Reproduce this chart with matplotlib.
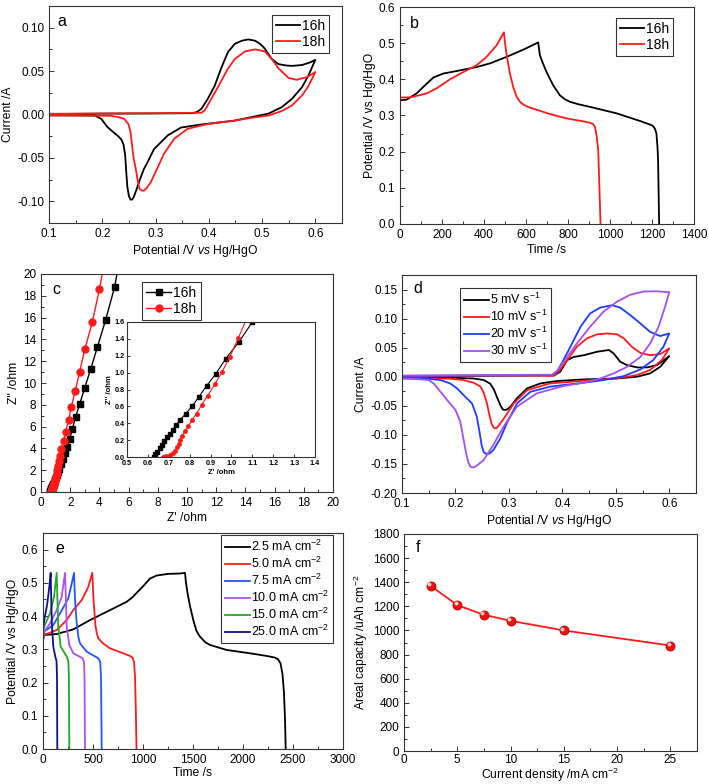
"""
Six-panel electrochemistry figure: CV, GCD, EIS, rate CV, rate GCD, areal capacity
"""

import matplotlib
matplotlib.use("Agg")
import matplotlib.pyplot as plt
from matplotlib.ticker import MultipleLocator
from matplotlib.transforms import ScaledTranslation

plt.rcParams['font.family'] = ['Liberation Sans', 'DejaVu Sans']
plt.rcParams['mathtext.fontset'] = 'custom'
plt.rcParams['mathtext.rm'] = 'Liberation Sans'
plt.rcParams['mathtext.it'] = 'Liberation Sans:italic'
plt.rcParams['mathtext.bf'] = 'Liberation Sans:bold'
plt.rcParams['axes.unicode_minus'] = False

# ---- panel a : CV of 16h / 18h samples ----
a_16h_x = [0.10, 0.20, 0.30, 0.37, 0.378, 0.386, 0.398, 0.411, 0.423, 0.436, 0.449, 0.462, 0.474, 0.487, 0.497,
           0.505, 0.518, 0.531, 0.545, 0.556, 0.575, 0.590, 0.600,
           0.587, 0.575, 0.556, 0.537, 0.512, 0.480, 0.449, 0.386, 0.348, 0.323, 0.297, 0.285, 0.278, 0.270,
           0.264, 0.259, 0.256, 0.253, 0.250, 0.247, 0.245, 0.243, 0.240, 0.236, 0.230, 0.222, 0.210, 0.198,
           0.186, 0.150, 0.10]
a_16h_y = [0.0005, 0.001, 0.0012, 0.0015, 0.003, 0.0065, 0.018, 0.033, 0.053, 0.072, 0.0815, 0.085, 0.0865, 0.085,
           0.081, 0.076, 0.064, 0.058, 0.0565, 0.056, 0.057, 0.060, 0.063,
           0.045, 0.0315, 0.018, 0.0085, 0.001, -0.003, -0.007, -0.0115, -0.015, -0.024, -0.040, -0.055, -0.063,
           -0.076, -0.087, -0.095, -0.098, -0.098, -0.094, -0.083, -0.066, -0.047, -0.035, -0.029, -0.025,
           -0.021, -0.0146, -0.005, -0.0012, -0.001, -0.001]
a_18h_x = [0.10, 0.20, 0.30, 0.386, 0.392, 0.401, 0.417, 0.436, 0.449, 0.468, 0.487, 0.505, 0.518, 0.531,
           0.550, 0.565, 0.584, 0.600,
           0.587, 0.575, 0.556, 0.537, 0.512, 0.480, 0.449, 0.398, 0.360, 0.335, 0.316, 0.304, 0.291, 0.283,
           0.278, 0.274, 0.270, 0.267, 0.263, 0.259, 0.256, 0.253, 0.249, 0.241, 0.230, 0.215, 0.150, 0.10]
a_18h_y = [0.0008, 0.0012, 0.0015, 0.002, 0.0046, 0.014, 0.0315, 0.053, 0.064, 0.0727, 0.075, 0.0727, 0.064, 0.053,
           0.042, 0.040, 0.043, 0.049,
           0.0327, 0.022, 0.0104, 0.004, -0.0012, -0.0038, -0.007, -0.011, -0.0165, -0.028, -0.045, -0.061, -0.078,
           -0.085, -0.0877, -0.0877, -0.0855, -0.078, -0.063, -0.051, -0.036, -0.020, -0.011, -0.005, -0.003,
           -0.0015, -0.0012, -0.001]

# ---- panel b : charge/discharge 16h / 18h ----
b_16h_t = [0, 32, 79, 127, 159, 206, 270, 365, 428, 507, 587, 658, 666, 680, 698, 729, 761, 785, 809, 850,
           904, 1031, 1142, 1190, 1205, 1215, 1221, 1226, 1229, 1234]
b_16h_v = [0.342, 0.344, 0.361, 0.388, 0.405, 0.416, 0.423, 0.434, 0.444, 0.462, 0.482, 0.502, 0.467, 0.445,
           0.42, 0.384, 0.356, 0.345, 0.338, 0.331, 0.324, 0.306, 0.285, 0.275, 0.271, 0.262, 0.250, 0.215,
           0.177, 0.0]
b_18h_t = [0, 48, 127, 174, 238, 301, 365, 412, 460, 495, 500, 507, 522, 539, 555, 571, 590, 618, 714, 793,
           880, 904, 920, 928, 936, 944, 955]
b_18h_v = [0.35, 0.35, 0.361, 0.375, 0.40, 0.42, 0.439, 0.462, 0.494, 0.53, 0.50, 0.471, 0.42, 0.379, 0.352,
           0.338, 0.329, 0.322, 0.304, 0.292, 0.283, 0.28, 0.276, 0.269, 0.245, 0.204, 0.0]

# ---- panel c : Nyquist plots ----
c_16h_x = [0.629, 0.636, 0.646, 0.656, 0.667, 0.679, 0.692, 0.706, 0.719, 0.735, 0.755, 0.782, 0.812, 0.845,
           0.881, 0.925, 0.973, 1.037, 1.10, 1.16, 1.26, 1.37, 1.49, 1.63, 1.80, 1.96, 2.15, 2.37, 2.65, 2.99,
           3.40, 3.86, 4.43, 5.04, 5.45]
c_16h_y = [0.0, 0.032, 0.064, 0.105, 0.145, 0.185, 0.233, 0.273, 0.322, 0.382, 0.442, 0.515, 0.603, 0.716,
           0.844, 0.985, 1.166, 1.367, 1.6, 1.82, 2.15, 2.55, 3.0, 3.55, 4.17, 4.88, 5.77, 6.9, 8.07, 9.54,
           11.26, 13.28, 15.8, 18.8, 21.8]
c_18h_x = [0.672, 0.689, 0.706, 0.719, 0.73, 0.739, 0.747, 0.755, 0.765, 0.777, 0.793, 0.812, 0.833, 0.858,
           0.886, 0.92, 0.956, 0.993, 1.032, 1.08, 1.12, 1.17, 1.23, 1.30, 1.39, 1.55, 1.69, 1.89, 2.08, 2.35,
           2.65, 3.0, 3.52, 4.0, 4.45]
c_18h_y = [0.0, 0.008, 0.024, 0.044, 0.072, 0.113, 0.153, 0.201, 0.253, 0.306, 0.366, 0.442, 0.515, 0.619,
           0.728, 0.86, 1.013, 1.19, 1.407, 1.68, 1.98, 2.35, 2.8, 3.3, 3.9, 4.69, 5.52, 6.6, 7.82, 9.3,
           11.04, 13.1, 15.6, 18.6, 21.8]

# ---- panel d : CV at different scan rates ----
d_labels = ['5 mV s$^{-1}$', '10 mV s$^{-1}$', '20 mV s$^{-1}$', '30 mV s$^{-1}$']
d_5_x = [0.10, 0.20, 0.30, 0.384, 0.396, 0.409, 0.421, 0.440, 0.465, 0.487, 0.496, 0.508, 0.521, 0.540,
         0.558, 0.577, 0.600,
         0.583, 0.564, 0.540, 0.502, 0.440, 0.390, 0.359, 0.334, 0.315, 0.303, 0.297, 0.293, 0.289, 0.285,
         0.278, 0.272, 0.265, 0.253, 0.234, 0.190, 0.10]
d_5_y = [0.001, 0.0015, 0.002, 0.002, 0.0086, 0.0286, 0.034, 0.037, 0.043, 0.046, 0.040, 0.026, 0.020, 0.016,
         0.016, 0.020, 0.0355,
         0.017, 0.0057, 0.0, -0.003, -0.0046, -0.0074, -0.0115, -0.02, -0.037, -0.0515, -0.056, -0.0573,
         -0.0565, -0.051, -0.036, -0.022, -0.012, -0.0057, -0.003, -0.0017, -0.001]
d_10_x = [0.10, 0.20, 0.30, 0.384, 0.393, 0.409, 0.427, 0.446, 0.465, 0.484, 0.502, 0.515, 0.530, 0.546,
          0.564, 0.583, 0.600,
          0.586, 0.564, 0.540, 0.502, 0.440, 0.377, 0.334, 0.309, 0.293, 0.281, 0.276, 0.272, 0.268, 0.264,
          0.259, 0.253, 0.247, 0.234, 0.215, 0.190, 0.10]
d_10_y = [0.001, 0.0015, 0.002, 0.002, 0.0086, 0.0286, 0.0515, 0.066, 0.073, 0.0744, 0.073, 0.066, 0.0515,
          0.041, 0.037, 0.039, 0.0487,
          0.0286, 0.0115, 0.003, -0.003, -0.0069, -0.0115, -0.023, -0.046, -0.0687, -0.084, -0.0887, -0.088,
          -0.082, -0.068, -0.046, -0.028, -0.017, -0.0103, -0.0057, -0.0034, -0.0017]
d_20_x = [0.10, 0.20, 0.30, 0.381, 0.39, 0.402, 0.415, 0.434, 0.452, 0.471, 0.493, 0.508, 0.527, 0.546,
          0.564, 0.583, 0.600,
          0.589, 0.570, 0.546, 0.515, 0.477, 0.440, 0.377, 0.340, 0.315, 0.296, 0.284, 0.271, 0.264, 0.258,
          0.253, 0.249, 0.245, 0.240, 0.231, 0.215, 0.203, 0.190, 0.172, 0.147, 0.10]
d_20_y = [0.0015, 0.002, 0.0025, 0.003, 0.0086, 0.0286, 0.0515, 0.086, 0.109, 0.119, 0.123, 0.119, 0.106,
          0.0916, 0.0773, 0.070, 0.0744,
          0.0515, 0.0286, 0.0126, 0.0011, -0.0057, -0.0103, -0.017, -0.026, -0.046, -0.080, -0.106, -0.126,
          -0.132, -0.133, -0.130, -0.118, -0.095, -0.0687, -0.046, -0.0315, -0.020, -0.0115, -0.0057, -0.0034,
          -0.0023]
d_30_x = [0.10, 0.20, 0.30, 0.381, 0.39, 0.409, 0.427, 0.452, 0.477, 0.502, 0.527, 0.552, 0.577, 0.600,
          0.592, 0.580, 0.564, 0.546, 0.521, 0.496, 0.471, 0.440, 0.402, 0.352, 0.315, 0.290, 0.271, 0.253,
          0.240, 0.234, 0.228, 0.224, 0.220, 0.215, 0.209, 0.200, 0.187, 0.172, 0.159, 0.150, 0.128, 0.10]
d_30_y = [0.002, 0.0025, 0.003, 0.0035, 0.01, 0.034, 0.057, 0.086, 0.112, 0.129, 0.141, 0.1466, 0.147, 0.1454,
          0.120, 0.086, 0.057, 0.034, 0.017, 0.0057, -0.003, -0.0103, -0.016, -0.0286, -0.0515, -0.086, -0.117,
          -0.143, -0.153, -0.156, -0.155, -0.147, -0.132, -0.107, -0.077, -0.057, -0.043, -0.0258, -0.0115,
          -0.0057, -0.004, -0.0034]

# ---- panel e : charge/discharge at different current densities ----
e_labels = ['2.5 mA cm$^{-2}$', '5.0 mA cm$^{-2}$', '7.5 mA cm$^{-2}$',
            '10.0 mA cm$^{-2}$', '15.0 mA cm$^{-2}$', '25.0 mA cm$^{-2}$']
e_2p5_t = [0, 10, 137, 303, 470, 637, 837, 900, 937, 1002, 1070, 1137, 1250, 1367, 1420, 1430, 1445, 1470,
           1503, 1535, 1570, 1620, 1670, 1837, 2070, 2237, 2320, 2350, 2375, 2395, 2410, 2420, 2427]
e_2p5_v = [0.33, 0.343, 0.346, 0.36, 0.388, 0.413, 0.443, 0.458, 0.47, 0.49, 0.513, 0.522, 0.527, 0.528, 0.53,
           0.50, 0.47, 0.43, 0.388, 0.355, 0.338, 0.322, 0.313, 0.298, 0.288, 0.28, 0.275, 0.27, 0.258, 0.225,
           0.168, 0.09, 0.0]
e_5_t = [0, 10, 137, 237, 303, 387, 453, 493, 505, 525, 540, 553, 600, 670, 870, 895, 910, 920, 928, 935]
e_5_v = [0.33, 0.343, 0.358, 0.388, 0.418, 0.448, 0.488, 0.53, 0.45, 0.37, 0.345, 0.333, 0.318, 0.303, 0.28,
         0.275, 0.262, 0.22, 0.12, 0.0]
e_7p5_t = [0, 10, 103, 170, 253, 287, 310, 320, 337, 355, 370, 437, 553, 572, 580, 587]
e_7p5_v = [0.32, 0.353, 0.373, 0.408, 0.453, 0.498, 0.53, 0.45, 0.378, 0.335, 0.318, 0.293, 0.273, 0.262,
           0.22, 0.0]
e_10_t = [0, 10, 70, 137, 187, 220, 230, 237, 263, 303, 397, 410, 415, 420]
e_10_v = [0.33, 0.353, 0.378, 0.418, 0.458, 0.53, 0.44, 0.368, 0.313, 0.288, 0.273, 0.26, 0.22, 0.0]
e_15_t = [0, 10, 70, 110, 137, 145, 153, 177, 237, 253, 259, 263]
e_15_v = [0.34, 0.368, 0.408, 0.458, 0.53, 0.44, 0.368, 0.308, 0.278, 0.265, 0.22, 0.0]
e_25_t = [0, 10, 43, 63, 77, 83, 90, 103, 123, 135, 140, 143]
e_25_v = [0.36, 0.383, 0.438, 0.488, 0.53, 0.44, 0.368, 0.308, 0.278, 0.265, 0.22, 0.0]

# ---- panel f : areal capacity vs current density ----
f_density = [2.5, 5, 7.5, 10, 15, 25]
f_capacity = [1370, 1210, 1130, 1080, 1000, 875]

W, H = 709, 784
fig = plt.figure(figsize=(W / 100, H / 100), dpi=100)


def box(l, t, r, b):
    return [l / W, 1 - b / H, (r - l) / W, (b - t) / H]


TICK_FS = 8.5
LAB_FS = 8.7


def style(ax, fs=TICK_FS):
    for s in ax.spines.values():
        s.set_color('#333333')
        s.set_linewidth(0.8)
    ax.tick_params(which='both', direction='in', top=False, right=False, labelsize=fs, width=0.7,
                   color='#333333')
    ax.tick_params(which='major', length=3.5)
    ax.tick_params(which='minor', length=2)


def legend(ax, loc, anchor, fs=10, hl=1.7, tp=0.15, **kw):
    leg = ax.legend(loc=loc, bbox_to_anchor=anchor, borderaxespad=0, fancybox=False, edgecolor='black',
                    fontsize=fs, handlelength=hl, handletextpad=tp, borderpad=0.3, labelspacing=0.15, **kw)
    leg.get_frame().set_linewidth(0.8)
    return leg


LW = 1.3
vs_label = 'Potential /V $\\it{vs}$ Hg/HgO'

# a
ax = fig.add_axes(box(49, 6, 342, 223))
ax.plot(a_16h_x, a_16h_y, color='black', lw=LW, label='16h')
ax.plot(a_18h_x, a_18h_y, color='#ff1a1a', lw=LW, label='18h')
ax.set_xlim(0.1, 0.65)
ax.set_ylim(-0.125, 0.125)
ax.set_xticks([0.1, 0.2, 0.3, 0.4, 0.5, 0.6])
ax.set_xticklabels(['0.1', '0.2', '0.3', '0.4', '0.5', '0.6'])
ax.xaxis.set_minor_locator(MultipleLocator(0.05))
ax.yaxis.set_major_locator(MultipleLocator(0.05))
ax.yaxis.set_minor_locator(MultipleLocator(0.025))
ax.set_xlabel(vs_label, fontsize=LAB_FS, labelpad=2)
ax.set_ylabel('Current /A', fontsize=LAB_FS, labelpad=2)
ax.text(0.03, 0.93, 'a', transform=ax.transAxes, fontsize=11.5, va='center')
style(ax)
legend(ax, 'upper right', (0.956, 0.959))

# b
ax = fig.add_axes(box(400, 7, 694, 224))
ax.plot(b_16h_t, b_16h_v, color='black', lw=LW, label='16h')
ax.plot(b_18h_t, b_18h_v, color='#ff1a1a', lw=LW, label='18h')
ax.set_xlim(0, 1400)
ax.set_ylim(0, 0.6)
ax.xaxis.set_major_locator(MultipleLocator(200))
ax.xaxis.set_minor_locator(MultipleLocator(100))
ax.yaxis.set_major_locator(MultipleLocator(0.1))
ax.yaxis.set_minor_locator(MultipleLocator(0.05))
ax.set_xlabel('Time /s', fontsize=LAB_FS, labelpad=2)
ax.set_ylabel('Potential /V vs Hg/HgO', fontsize=LAB_FS, labelpad=2)
ax.text(0.034, 0.926, 'b', transform=ax.transAxes, fontsize=11.5, va='center')
style(ax)
legend(ax, 'upper right', (0.929, 0.949))

# c
ax = fig.add_axes(box(41, 274, 333, 492))
ax.plot(c_16h_x, c_16h_y, color='black', lw=1.0, marker='s', ms=4.3, label='16h')
ax.plot(c_18h_x, c_18h_y, color='#ff1a1a', lw=1.0, marker='o', ms=5, label='18h')
ax.set_xlim(0, 20)
ax.set_ylim(0, 20)
ax.xaxis.set_major_locator(MultipleLocator(2))
ax.xaxis.set_minor_locator(MultipleLocator(1))
ax.yaxis.set_major_locator(MultipleLocator(2))
ax.yaxis.set_minor_locator(MultipleLocator(1))
ax.set_xlabel("Z' /ohm", fontsize=LAB_FS, labelpad=2)
ax.set_ylabel("Z'' /ohm", fontsize=LAB_FS, labelpad=2)
ax.text(0.04, 0.93, 'c', transform=ax.transAxes, fontsize=11.5, va='center')
style(ax)
legend(ax, 'upper left', (0.346, 0.963), fs=10, hl=1.8)

ins = fig.add_axes(box(127, 322, 315, 457))
ins.plot(c_16h_x, c_16h_y, color='black', lw=0.8, marker='s', ms=2.3)
ins.plot(c_18h_x, c_18h_y, color='#ff1a1a', lw=0.8, marker='o', ms=2.5)
ins.set_xlim(0.5, 1.4)
ins.set_ylim(0, 1.6)
ins.xaxis.set_major_locator(MultipleLocator(0.1))
ins.yaxis.set_major_locator(MultipleLocator(0.2))
ins.set_xlabel("Z' /ohm", fontsize=5.5, fontweight='bold', labelpad=1)
ins.set_ylabel("Z'' /ohm", fontsize=5.5, fontweight='bold', labelpad=1)
style(ins, fs=5.2)
ins.tick_params(which='major', length=2)
ins.tick_params(axis='x', pad=2.5)
ins.tick_params(axis='y', pad=1.5)
for lab in ins.get_xticklabels() + ins.get_yticklabels():
    lab.set_fontweight('bold')

# d
ax = fig.add_axes(box(402, 275, 696, 493))
d_colors = ['black', '#ff1a1a', '#1a3cff', '#a64ff0']
for xs, ys, c, lab in zip([d_5_x, d_10_x, d_20_x, d_30_x], [d_5_y, d_10_y, d_20_y, d_30_y], d_colors, d_labels):
    ax.plot(xs, ys, color=c, lw=LW, label=lab)
ax.set_xlim(0.1, 0.65)
ax.set_ylim(-0.2, 0.175)
ax.set_xticks([0.1, 0.2, 0.3, 0.4, 0.5, 0.6])
ax.set_xticklabels(['0.1', '0.2', '0.3', '0.4', '0.5', '0.6'])
ax.xaxis.set_minor_locator(MultipleLocator(0.05))
ax.yaxis.set_major_locator(MultipleLocator(0.05))
ax.yaxis.set_minor_locator(MultipleLocator(0.025))
ax.set_xlabel(vs_label, fontsize=LAB_FS, labelpad=2)
ax.set_ylabel('Current /A', fontsize=LAB_FS, labelpad=2)
ax.text(0.038, 0.94, 'd', transform=ax.transAxes, fontsize=11.5, va='center')
style(ax)
legend(ax, 'upper left', (0.197, 0.94), fs=9, hl=2.0, tp=0.1)

# e
ax = fig.add_axes(box(43, 533, 343, 749))
e_colors = ['black', '#ff1a1a', '#2255ff', '#b050f0', '#22aa22', '#10108a']
e_t = [e_2p5_t, e_5_t, e_7p5_t, e_10_t, e_15_t, e_25_t]
e_v = [e_2p5_v, e_5_v, e_7p5_v, e_10_v, e_15_v, e_25_v]
for ts, vs, c, lab in zip(e_t, e_v, e_colors, e_labels):
    ax.plot(ts, vs, color=c, lw=LW, label=lab)
ax.set_xlim(0, 3000)
ax.set_ylim(0, 0.65)
ax.xaxis.set_major_locator(MultipleLocator(500))
ax.xaxis.set_minor_locator(MultipleLocator(250))
ax.yaxis.set_major_locator(MultipleLocator(0.1))
ax.yaxis.set_minor_locator(MultipleLocator(0.05))
ax.set_xlabel('Time /s', fontsize=LAB_FS, labelpad=1)
ax.set_ylabel('Potential /V vs Hg/HgO', fontsize=LAB_FS, labelpad=2)
ax.text(0.04, 0.93, 'e', transform=ax.transAxes, fontsize=11.5, va='center')
style(ax)
legend(ax, 'upper right', (0.967, 0.99), fs=9, hl=2.0, tp=0.1)

# f
ax = fig.add_axes(box(404, 534, 697, 751))
ax.plot(f_density, f_capacity, color='#ff1a1a', lw=LW, marker='o', ms=6.5, mfc='#ee1111', mec='#bb0000',
        mew=0.6)
shift = ax.transData + ScaledTranslation(-1.2 / 72, 1.2 / 72, fig.dpi_scale_trans)
ax.plot(f_density, f_capacity, ls='none', marker='o', ms=1.8, color='#ffd0d0', transform=shift)
ax.set_xlim(0, 27.5)
ax.set_ylim(0, 1800)
ax.xaxis.set_major_locator(MultipleLocator(5))
ax.xaxis.set_minor_locator(MultipleLocator(2.5))
ax.yaxis.set_major_locator(MultipleLocator(200))
ax.yaxis.set_minor_locator(MultipleLocator(100))
ax.set_xlabel('Current density /mA cm$^{-2}$', fontsize=LAB_FS, labelpad=0)
ax.set_ylabel('Areal capacity /uAh cm$^{-2}$', fontsize=LAB_FS, labelpad=2)
ax.text(0.04, 0.94, 'f', transform=ax.transAxes, fontsize=11.5, va='center')
style(ax)
ax.tick_params(axis='x', pad=2)

fig.savefig('out.png', dpi=100)
